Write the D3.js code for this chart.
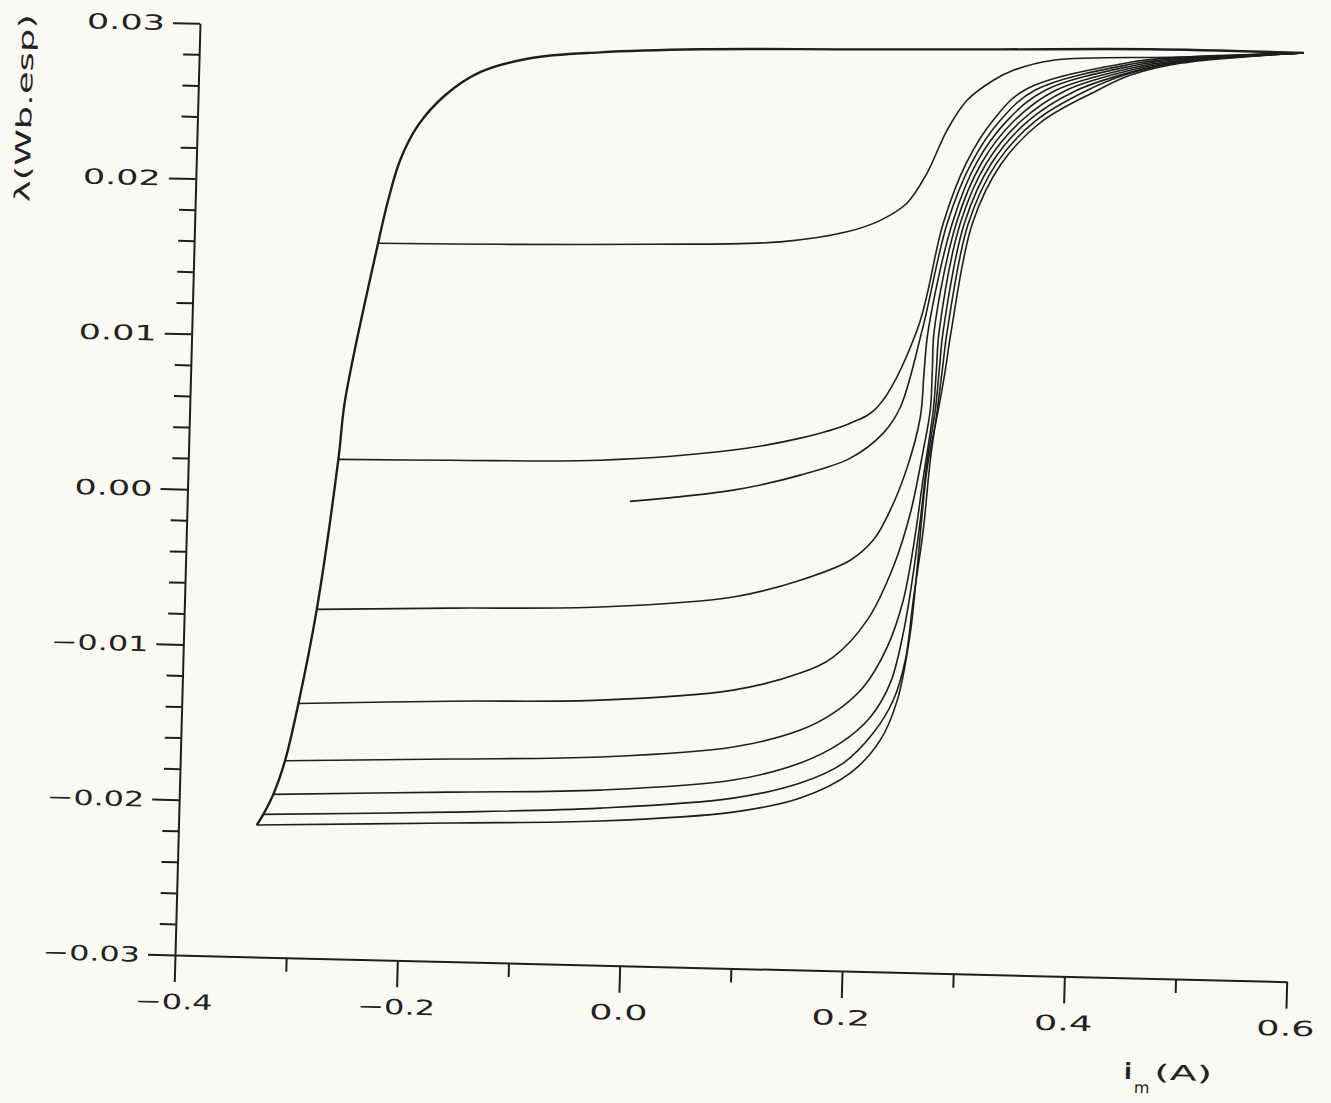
<!DOCTYPE html>
<html>
<head>
<meta charset="utf-8">
<title>Lambda x im</title>
<script src="https://d3js.org/d3.v7.min.js"></script>
<style>
  body { margin: 0; background: #fbfaf2; }
  .curve { fill: none; stroke: #1e1e1e; stroke-width: 1.6px; stroke-linejoin: round; }
  .outer { stroke-width: 2.4px; }
  .axis path, .axis line { stroke: #1e1e1e; stroke-width: 2px; }
  .lbl { font-family: "DejaVu Sans", sans-serif; fill: #222; }
</style>
</head>
<body>
<svg id="chart" width="1331" height="1103"></svg>
<script>
// axis ticks
const xMajor = [-0.4, -0.2, 0.0, 0.2, 0.4, 0.6];
const xLabels = ["\u22120.4", "\u22120.2", "0.0", "0.2", "0.4", "0.6"];
const yMajor = [0.03, 0.02, 0.01, 0.00, -0.01, -0.02, -0.03];
const yLabels = ["0.03", "0.02", "0.01", "0.00", "\u22120.01", "\u22120.02", "\u22120.03"];

// descending branch from positive saturation
const descBranch = [[-0.3297,-0.02151],[-0.324,-0.02081],[-0.3155,-0.01951],[-0.3058,-0.01733],[-0.2951,-0.01362],
  [-0.2809,-0.00754],[-0.2651,0.00215],[-0.2605,0.00597],[-0.2346,0.01612],[-0.2266,0.0189],[-0.2168,0.0215],
  [-0.2014,0.02378],[-0.1779,0.02575],[-0.147,0.02729],[-0.1023,0.02826],[-0.0396,0.02875],[0.0503,0.0291],
  [0.1852,0.02933],[0.32,0.02956],[0.455,0.0298],[0.593,0.0298]];

// ascending curves, each one starting on the descending branch
const asc016 = [[-0.2346,0.01612],[-0.1249,0.01624],[0.01,0.01648],[0.1269,0.01683],[0.1866,0.01758],[0.2163,0.01837],
  [0.2398,0.01951],[0.2571,0.02147],[0.2741,0.02427],[0.2914,0.02623],[0.3146,0.02756],[0.3323,0.02823],
  [0.368,0.02894],[0.4821,0.02934],[0.593,0.0298]];
const asc002 = [[-0.2651,0.00215],[-0.1646,0.00227],[-0.0298,0.0025],[0.0897,0.00336],[0.1496,0.00423],[0.1942,0.00527],
  [0.2181,0.00634],[0.2522,0.0114],[0.273,0.0183],[0.2923,0.0222],[0.3155,0.025],[0.3435,0.027],
  [0.4373,0.02893],[0.4821,0.02932],[0.593,0.0298]];
// first magnetisation curve
const initCurve = [[-0.002,-0.0001],[0.0906,0.00078],[0.1505,0.00185],[0.1951,0.00302],[0.2241,0.00468],[0.2388,0.00637],
  [0.2567,0.0114],[0.2766,0.0183],[0.2968,0.0222],[0.3218,0.025],[0.3525,0.027],[0.4373,0.0288],
  [0.4821,0.02926],[0.593,0.0298]];
const ascM0075 = [[-0.2809,-0.00754],[-0.1611,-0.00725],[-0.0262,-0.00695],[0.0932,-0.0061],[0.1531,-0.00491],
  [0.1975,-0.00355],[0.2177,-0.00222],[0.2323,-0.00026],[0.2465,0.00253],[0.257,0.00576],[0.2594,0.0088],
  [0.2621,0.0114],[0.2811,0.0183],[0.3013,0.0222],[0.3281,0.025],[0.3615,0.027],[0.4373,0.02867],[0.4821,0.0292],[0.593,0.0298]];
const ascM0136 = [[-0.2951,-0.01362],[-0.1588,-0.01324],[-0.0239,-0.01294],[0.0954,-0.01209],[0.1552,-0.01089],
  [0.1845,-0.00981],[0.2142,-0.00738],[0.2363,-0.00392],[0.2504,-0.00042],[0.2605,0.00365],[0.2658,0.00623],
  [0.2667,0.0088],[0.2675,0.0114],[0.2847,0.0183],[0.3058,0.0222],[0.3344,0.025],[0.3705,0.027],[0.4373,0.02854],
  [0.4821,0.02913],[0.593,0.0298]];
const ascM0173 = [[-0.3058,-0.01733],[-0.1574,-0.01696],[-0.0226,-0.0166],[0.0968,-0.01575],[0.1567,-0.01456],
  [0.1859,-0.01342],[0.2122,-0.0117],[0.2328,-0.00908],[0.2461,-0.00604],[0.2539,-0.00261],[0.2612,0.00191],
  [0.2685,0.00623],[0.2703,0.0088],[0.272,0.0114],[0.2883,0.0183],[0.3102,0.0222],[0.3407,0.025],[0.3795,0.027],
  [0.4373,0.02841],[0.4821,0.02907],[0.593,0.0298]];
const ascM0195 = [[-0.3155,-0.01951],[-0.1567,-0.01909],[-0.0218,-0.01873],[0.0976,-0.01788],[0.1575,-0.01668],
  [0.1929,-0.01534],[0.2193,-0.01362],[0.2364,-0.0114],[0.2469,-0.00816],[0.2537,-0.00474],[0.2595,-0.00086],
  [0.2643,0.00301],[0.2703,0.00624],[0.2729,0.0088],[0.2756,0.0114],[0.2919,0.0183],[0.3147,0.0222],[0.3469,0.025],
  [0.3885,0.027],[0.4373,0.02828],[0.4821,0.02903],[0.593,0.0298]];
const ascM0208 = [[-0.324,-0.02081],[-0.1561,-0.02038],[-0.0213,-0.01989],[0.098,-0.01904],[0.1579,-0.01797],
  [0.1961,-0.01662],[0.2223,-0.01464],[0.2396,-0.01248],[0.2494,-0.0099],[0.2551,-0.00602],[0.2624,-0.0015],
  [0.267,0.00301],[0.2721,0.00624],[0.2756,0.0088],[0.2792,0.0114],[0.2955,0.0183],[0.3192,0.0222],[0.3532,0.025],
  [0.3975,0.027],[0.4373,0.02822],[0.4821,0.029],[0.593,0.0298]];
const ascM0215 = [[-0.3297,-0.02151],[-0.1558,-0.02108],[-0.021,-0.02072],[0.0984,-0.01994],[0.1583,-0.01893],
  [0.2026,-0.01725],[0.2288,-0.01508],[0.2432,-0.01248],[0.2532,-0.00815],[0.2579,-0.00389],[0.2645,0.00256],
  [0.273,0.00624],[0.2783,0.0088],[0.2828,0.0114],[0.2991,0.0183],[0.3237,0.0222],[0.3595,0.025],[0.4065,0.027],
  [0.4373,0.02809],[0.4821,0.02894],[0.593,0.0298]];

const ascCurves = [asc016, asc002, initCurve, ascM0075, ascM0136, ascM0173, ascM0195, ascM0208, ascM0215];

const svg = d3.select("#chart");
svg.append("rect").attr("width", 1331).attr("height", 1103).attr("fill", "#fbfaf2");

const W = 1112, H = 932;
// the scanned sheet is slightly tilted
const g = svg.append("g")
  .attr("transform", "matrix(0.99973,0.02401,-0.02682,0.99968,200,23.3)");

const x = d3.scaleLinear().domain([-0.4, 0.6]).range([0, W]);
const y = d3.scaleLinear().domain([-0.03, 0.03]).range([H, 0]);

// x axis
const xMinor = d3.range(-0.3, 0.6, 0.2);
g.append("g").attr("class", "axis").attr("transform", "translate(0," + H + ")")
  .call(d3.axisBottom(x).tickValues(xMajor).tickSize(27).tickSizeOuter(0).tickFormat(""));
g.append("g").attr("class", "axis").attr("transform", "translate(0," + H + ")")
  .call(d3.axisBottom(x).tickValues(xMinor).tickSize(14).tickSizeOuter(0).tickFormat(""))
  .select(".domain").remove();
g.selectAll("text.xl").data(xMajor).join("text")
  .attr("class", "lbl xl")
  .attr("x", d => x(d)).attr("y", H + 54)
  .attr("text-anchor", "middle")
  .attr("font-size", 21)
  .attr("textLength", (d, i) => xLabels[i].length * 19.5)
  .attr("lengthAdjust", "spacingAndGlyphs")
  .text((d, i) => xLabels[i]);

// y axis
const yMinor = d3.range(-0.028, 0.03, 0.002).filter(v => Math.abs(Math.round(v * 100) - v * 100) > 1e-6);
g.append("g").attr("class", "axis")
  .call(d3.axisLeft(y).tickValues(yMajor).tickSize(27).tickSizeOuter(0).tickFormat(""));
g.append("g").attr("class", "axis")
  .call(d3.axisLeft(y).tickValues(yMinor).tickSize(16).tickSizeOuter(0).tickFormat(""))
  .select(".domain").remove();
g.selectAll("text.yl").data(yMajor).join("text")
  .attr("class", "lbl yl")
  .attr("x", -35).attr("y", d => y(d))
  .attr("dy", "0.36em")
  .attr("text-anchor", "end")
  .attr("font-size", 21)
  .attr("textLength", (d, i) => yLabels[i].length * 19.5)
  .attr("lengthAdjust", "spacingAndGlyphs")
  .text((d, i) => yLabels[i]);

// axis titles
g.append("text").attr("class", "lbl")
  .attr("transform", "translate(-166,89) rotate(-90)")
  .attr("text-anchor", "middle")
  .attr("font-size", 21)
  .attr("textLength", 188)
  .attr("lengthAdjust", "spacingAndGlyphs")
  .text("\u03bb(Wb.esp)");

const xt = g.append("g").attr("transform", "translate(952,1033)");
xt.append("text").attr("class", "lbl").attr("font-size", 22).attr("font-weight", "bold").text("i");
xt.append("text").attr("class", "lbl").attr("x", 10).attr("y", 14).attr("font-size", 16).text("m");
xt.append("text").attr("class", "lbl").attr("x", 30).attr("font-size", 21)
  .attr("textLength", 58).attr("lengthAdjust", "spacingAndGlyphs").text("(A)");

// curves
const line = d3.line().x(d => x(d[0])).y(d => y(d[1])).curve(d3.curveCatmullRom.alpha(0.5));

g.selectAll("path.asc").data(ascCurves).join("path")
  .attr("class", "curve asc")
  .attr("d", line);

g.append("path").datum(descBranch)
  .attr("class", "curve outer")
  .attr("d", line);
</script>
</body>
</html>
